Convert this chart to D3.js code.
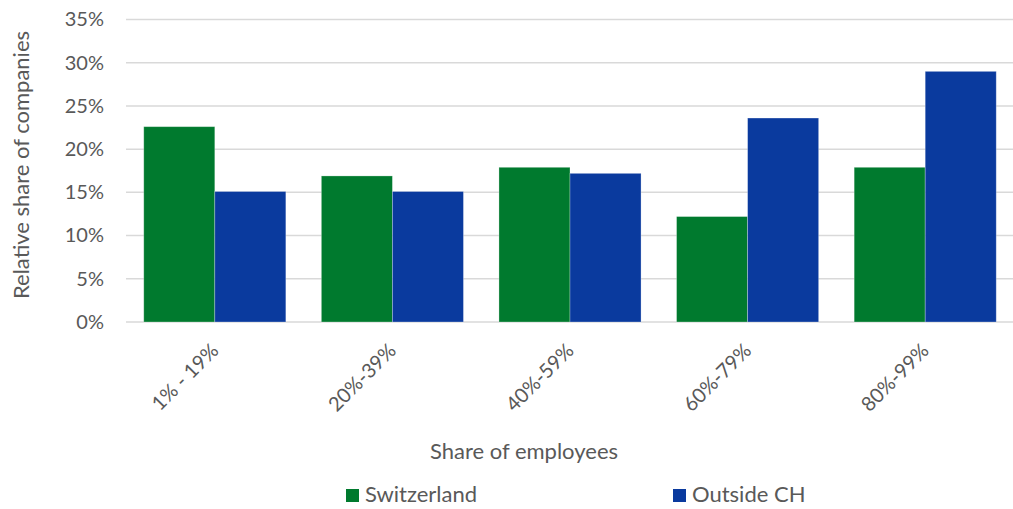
<!DOCTYPE html>
<html>
<head>
<meta charset="utf-8">
<script src="https://cdn.jsdelivr.net/npm/d3@7"></script>
<style>
  html, body { margin: 0; padding: 0; background: #fff; }
  svg text { font-family: Lato, "Open Sans", sans-serif; fill: #595959; }
</style>
</head>
<body>
<svg id="chart" width="1013" height="509"></svg>
<script>
// Share of employees bands and relative share of companies (%)
const categories = ["1% - 19%", "20%-39%", "40%-59%", "60%-79%", "80%-99%"];
const seriesNames = ["Switzerland", "Outside CH"];
const switzerland = [22.6, 16.9, 17.9, 12.2, 17.9];
const outsideCH = [15.1, 15.1, 17.2, 23.6, 29.0];
const yTicks = [0, 5, 10, 15, 20, 25, 30, 35];
const colors = ["#007A2E", "#0A3A9E"];

const svg = d3.select("#chart");
const x0 = 126, x1 = 1014, yTop = 19.5, yBot = 322;

const x = d3.scaleBand().domain(categories).range([x0, x1]).paddingInner(0.2).paddingOuter(0.1);
const xs = d3.scaleBand().domain(seriesNames).range([0, x.bandwidth()]);
const y = d3.scaleLinear().domain([0, 35]).range([yBot, yTop]);

// gridlines
svg.append("g").selectAll("line").data(yTicks).join("line")
  .attr("x1", x0).attr("x2", x1)
  .attr("y1", d => y(d)).attr("y2", d => y(d))
  .attr("stroke", "#d9d9d9").attr("stroke-width", 1.5);

// y axis labels
const yAxis = d3.axisLeft(y).tickValues(yTicks).tickFormat(d => d + "%").tickSize(0).tickPadding(0);
const gy = svg.append("g").attr("transform", `translate(${104},0)`).call(yAxis);
gy.select(".domain").remove();
gy.selectAll("text").attr("font-size", 20).attr("fill", "#595959").style("font-family", "Lato, sans-serif");

// bars
const rows = categories.map((c, i) => ({ cat: c, vals: [switzerland[i], outsideCH[i]] }));
const groups = svg.append("g").selectAll("g").data(rows).join("g")
  .attr("transform", d => `translate(${x(d.cat)},0)`);
groups.selectAll("rect").data(d => d.vals.map((v, j) => ({ v, s: seriesNames[j], j }))).join("rect")
  .attr("x", d => xs(d.s))
  .attr("width", xs.bandwidth())
  .attr("y", d => y(d.v))
  .attr("height", d => y(0) - y(d.v))
  .attr("fill", d => colors[d.j])
  .attr("stroke", "rgba(255,255,255,0.35)").attr("stroke-width", 0.8);

// x axis labels, rotated
const xAxis = d3.axisBottom(x).tickSize(0).tickPadding(0);
const gx = svg.append("g").attr("transform", `translate(0,${yBot})`).call(xAxis);
gx.select(".domain").remove();
gx.selectAll("text")
  .attr("font-size", 20).attr("fill", "#595959").style("font-family", "Lato, sans-serif")
  .attr("text-anchor", "end")
  .attr("dy", 0).attr("y", 0)
  .attr("transform", "translate(5,30) rotate(-45)");

// axis titles
svg.append("text").attr("x", 524).attr("y", 459).attr("text-anchor", "middle")
  .attr("font-size", 22).text("Share of employees");
svg.append("text").attr("transform", `translate(29,165) rotate(-90)`).attr("text-anchor", "middle")
  .attr("font-size", 22).text("Relative share of companies");

// legend
const legendX = [346, 673];
const lg = svg.append("g").selectAll("g").data(seriesNames).join("g")
  .attr("transform", (d, i) => `translate(${legendX[i]},489)`);
lg.append("rect").attr("width", 13).attr("height", 13).attr("fill", (d, i) => colors[i]);
lg.append("text").attr("x", 19).attr("y", 13).attr("font-size", 22).text(d => d);
</script>
</body>
</html>
